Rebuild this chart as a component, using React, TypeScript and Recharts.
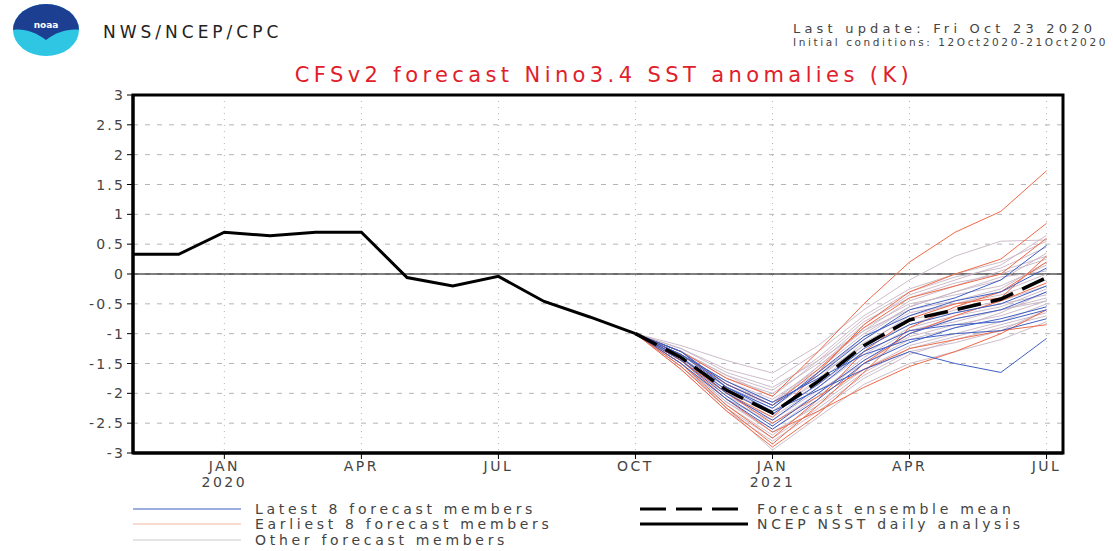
import React from "react";
import { LineChart, Line, XAxis, YAxis, CartesianGrid, ReferenceLine, ReferenceArea } from "recharts";

// month index: 0 = Nov 2019 ... 20 = Jul 2021
const analysisMonths = [0, 1, 2, 3, 4, 5, 6, 7, 8, 9, 10, 11];
const analysisValues = [0.33, 0.33, 0.7, 0.64, 0.7, 0.7, -0.06, -0.2, -0.04, -0.46, -0.72, -1.0];

const forecastMonths = [11, 12, 13, 14, 15, 16, 17, 18, 19, 20];
const ensembleMean = [-1.0, -1.4, -1.95, -2.33, -1.8, -1.2, -0.77, -0.6, -0.42, -0.06];

const latestMembers = [
  [-1.0, -1.35, -1.9, -2.3, -1.95, -1.6, -1.3, -1.5, -1.65, -1.08],
  [-1.0, -1.4, -2.0, -2.45, -1.9, -1.3, -0.95, -0.85, -0.8, -0.6],
  [-1.0, -1.45, -2.05, -2.55, -2.0, -1.45, -1.0, -0.75, -0.6, -0.3],
  [-1.0, -1.3, -1.85, -2.2, -1.7, -1.1, -0.6, -0.4, -0.1, 0.48],
  [-1.0, -1.4, -1.95, -2.35, -1.85, -1.25, -0.85, -0.65, -0.5, -0.2],
  [-1.0, -1.35, -1.8, -2.15, -1.75, -1.35, -1.1, -1.0, -0.95, -0.75],
  [-1.0, -1.5, -2.1, -2.6, -2.1, -1.5, -1.15, -0.9, -0.75, -0.55],
  [-1.0, -1.3, -1.9, -2.25, -1.65, -1.05, -0.7, -0.45, -0.3, 0.1],
];

const earliestMembers = [
  [-1.0, -1.3, -1.75, -2.05, -1.3, -0.5, 0.2, 0.7, 1.05, 1.73],
  [-1.0, -1.4, -2.0, -2.4, -1.65, -0.85, -0.3, 0.0, 0.25, 0.85],
  [-1.0, -1.55, -2.25, -2.85, -2.2, -1.5, -1.0, -0.7, -0.45, -0.15],
  [-1.0, -1.45, -2.1, -2.65, -2.3, -1.9, -1.55, -1.3, -1.0, -0.6],
  [-1.0, -1.35, -1.85, -2.2, -1.6, -0.9, -0.4, -0.2, 0.0, 0.6],
  [-1.0, -1.5, -2.2, -2.75, -2.1, -1.3, -0.75, -0.5, -0.4, 0.3],
  [-1.0, -1.45, -2.0, -2.5, -2.05, -1.6, -1.25, -1.1, -0.95, -0.85],
  [-1.0, -1.6, -2.3, -2.9, -2.35, -1.65, -0.9, -0.55, -0.3, 0.2],
];

const otherMembers = [
  [-1.0, -1.2, -1.45, -1.66, -1.2, -0.6, -0.1, 0.3, 0.55, 0.57],
  [-1.0, -1.25, -1.6, -1.8, -1.3, -0.7, -0.25, 0.0, 0.2, 0.55],
  [-1.0, -1.3, -1.7, -1.95, -1.4, -0.75, -0.3, -0.05, 0.1, 0.45],
  [-1.0, -1.35, -1.8, -2.1, -1.6, -1.0, -0.55, -0.3, -0.1, 0.35],
  [-1.0, -1.4, -1.9, -2.2, -1.55, -0.95, -0.45, -0.2, 0.05, 0.3],
  [-1.0, -1.45, -2.0, -2.3, -1.8, -1.2, -0.7, -0.5, -0.3, 0.0],
  [-1.0, -1.4, -2.05, -2.4, -1.9, -1.35, -0.9, -0.7, -0.55, -0.25],
  [-1.0, -1.5, -2.1, -2.5, -2.0, -1.4, -0.95, -0.8, -0.6, -0.4],
  [-1.0, -1.35, -1.85, -2.15, -1.65, -1.1, -0.65, -0.5, -0.35, -0.1],
  [-1.0, -1.55, -2.2, -2.7, -2.15, -1.6, -1.2, -1.0, -0.8, -0.5],
  [-1.0, -1.6, -2.3, -2.8, -2.3, -1.75, -1.35, -1.1, -0.9, -0.7],
  [-1.0, -1.5, -2.25, -2.95, -2.4, -1.85, -1.5, -1.3, -1.1, -0.8],
  [-1.0, -1.3, -1.75, -2.0, -1.5, -0.85, -0.35, -0.1, 0.15, 0.65],
  [-1.0, -1.45, -1.95, -2.35, -1.75, -1.15, -0.75, -0.65, -0.5, -0.35],
  [-1.0, -1.4, -1.9, -2.25, -1.7, -1.2, -0.85, -0.6, -0.45, -0.2],
  [-1.0, -1.35, -1.8, -2.15, -1.55, -0.9, -0.5, -0.35, -0.2, 0.15],
  [-1.0, -1.5, -2.15, -2.6, -2.05, -1.45, -1.05, -0.85, -0.7, -0.45],
  [-1.0, -1.45, -2.1, -2.45, -1.95, -1.5, -1.1, -0.9, -0.65, -0.3],
  [-1.0, -1.25, -1.65, -1.9, -1.45, -0.95, -0.6, -0.45, -0.25, 0.2],
  [-1.0, -1.55, -2.25, -2.75, -2.25, -1.7, -1.3, -1.15, -0.95, -0.6],
  [-1.0, -1.4, -1.95, -2.3, -1.85, -1.3, -0.95, -0.75, -0.6, -0.45],
  [-1.0, -1.3, -1.7, -2.05, -1.45, -0.8, -0.4, -0.15, 0.0, 0.25],
  [-1.0, -1.5, -2.15, -2.65, -2.2, -1.65, -1.25, -1.05, -0.85, -0.65],
  [-1.0, -1.35, -1.85, -2.2, -1.7, -1.05, -0.55, -0.3, -0.05, 0.05],
];

const xTicks = [2, 5, 8, 11, 14, 17, 20];
const xTickLabels = ["JAN", "APR", "JUL", "OCT", "JAN", "APR", "JUL"];
const xTickYears = ["2020", "", "", "", "2021", "", ""];
const yTicks = [-3, -2.5, -2, -1.5, -1, -0.5, 0, 0.5, 1, 1.5, 2, 2.5, 3];

const legendItems = [
  { label: "Latest 8 forecast members", color: "#3f5fc4", width: 1.2, dash: undefined, x: 133, tx: 255, y: 509 },
  { label: "Earliest 8 forecast members", color: "#f2b79d", width: 1.2, dash: undefined, x: 133, tx: 255, y: 524 },
  { label: "Other forecast members", color: "#c9c9c9", width: 1.2, dash: undefined, x: 133, tx: 255, y: 540 },
  { label: "Forecast ensemble mean", color: "#000", width: 3, dash: "26 10", x: 640, tx: 757, y: 509 },
  { label: "NCEP NSST daily analysis", color: "#000", width: 3, dash: undefined, x: 640, tx: 757, y: 524 },
];

// build the table
const rows: Record<string, number>[] = [];
for (let i = 0; i <= 20; i++) rows.push({ x: i });
analysisMonths.forEach((m, i) => (rows[m].obs = analysisValues[i]));
forecastMonths.forEach((m, i) => {
  rows[m].mean = ensembleMean[i];
  otherMembers.forEach((s, k) => (rows[m]["o" + k] = s[i]));
  earliestMembers.forEach((s, k) => (rows[m]["e" + k] = s[i]));
  latestMembers.forEach((s, k) => (rows[m]["l" + k] = s[i]));
});

const font = "'DejaVu Sans', 'Liberation Sans', sans-serif";

const XTick = (props: any) => {
  const { x, y, payload } = props;
  const idx = xTicks.indexOf(payload.value);
  return (
    <g>
      <text x={x} y={y + 10} textAnchor="middle" fontFamily={font} fontSize={14} fill="#444" letterSpacing={2.5}>
        {xTickLabels[idx]}
      </text>
      {xTickYears[idx] ? (
        <text x={x} y={y + 26} textAnchor="middle" fontFamily={font} fontSize={14} fill="#444" letterSpacing={2.5}>
          {xTickYears[idx]}
        </text>
      ) : null}
    </g>
  );
};

const YTick = (props: any) => {
  const { x, y, payload } = props;
  return (
    <text x={x} y={y + 5} textAnchor="end" fontFamily={font} fontSize={14} fill="#444" letterSpacing={2.2}>
      {String(payload.value)}
    </text>
  );
};

export default function App() {
  return (
    <div style={{ position: "absolute", left: 0, top: 0, width: 1113, height: 551, background: "#fff" }}>
      <LineChart width={1113} height={551} data={rows} margin={{ top: 95, right: 50, bottom: 0, left: 0 }}>
        <CartesianGrid horizontal={true} vertical={false} stroke="#b5b5b5" strokeDasharray="5 7" />
        <CartesianGrid horizontal={false} vertical={true} stroke="#b5b5b5" strokeDasharray="1 5" />
        <XAxis
          dataKey="x"
          type="number"
          domain={[0, 20.36]}
          ticks={xTicks}
          allowDataOverflow
          tick={<XTick />}
          tickLine={{ stroke: "#000" }}
          tickSize={6}
          axisLine={{ stroke: "#000", strokeWidth: 3 }}
          height={98}
        />
        <YAxis
          type="number"
          domain={[-3, 3]}
          ticks={yTicks}
          allowDataOverflow
          tick={<YTick />}
          tickLine={{ stroke: "#000" }}
          tickSize={6}
          axisLine={{ stroke: "#000", strokeWidth: 3 }}
          width={133}
        />
        <ReferenceLine y={0} stroke="#000" strokeWidth={1.2} />
        {otherMembers.map((_, k) => (
          <Line key={"o" + k} dataKey={"o" + k} stroke="#c7b5c4" strokeWidth={0.9} dot={false} isAnimationActive={false} />
        ))}
        {earliestMembers.map((_, k) => (
          <Line key={"e" + k} dataKey={"e" + k} stroke="#ef6a48" strokeWidth={1} dot={false} isAnimationActive={false} />
        ))}
        {latestMembers.map((_, k) => (
          <Line key={"l" + k} dataKey={"l" + k} stroke="#3f5fc4" strokeWidth={1} dot={false} isAnimationActive={false} />
        ))}
        <Line dataKey="mean" stroke="#000" strokeWidth={3.5} strokeDasharray="24 10" dot={false} isAnimationActive={false} />
        <Line dataKey="obs" stroke="#000" strokeWidth={3} dot={false} isAnimationActive={false} />
        <ReferenceArea x1={0} x2={20.36} y1={-3} y2={3} fill="none" stroke="#000" strokeWidth={3} ifOverflow="visible" />
      </LineChart>
      <svg width={1113} height={551} style={{ position: "absolute", left: 0, top: 0, pointerEvents: "none" }}>
        {/* NOAA logo */}
        <defs>
          <clipPath id="logoClip">
            <ellipse cx={46} cy={30} rx={33} ry={26} />
          </clipPath>
        </defs>
        <ellipse cx={46} cy={30} rx={33} ry={26} fill="#2ec6e3" />
        <g clipPath="url(#logoClip)">
          <path d="M0 0 H100 V36 C80 26 62 28 46 40 C30 28 12 26 0 36 Z" fill="#1d3f92" />
        </g>
        <text x={46} y={28} textAnchor="middle" fontFamily={font} fontSize={9} fontWeight="bold" fill="#fff">
          noaa
        </text>
        <text x={103} y={38} fontFamily={font} fontSize={17} fill="#222" letterSpacing={4}>
          NWS/NCEP/CPC
        </text>
        <text x={793} y={33} fontFamily={font} fontSize={13} fill="#444" letterSpacing={4.2}>
          Last update: Fri Oct 23 2020
        </text>
        <text x={793} y={46} fontFamily={font} fontSize={10.5} fill="#444" letterSpacing={2.6}>
          Initial conditions: 12Oct2020-21Oct2020
        </text>
        <text x={604} y={82} textAnchor="middle" fontFamily={font} fontSize={21} fill="#e0202a" letterSpacing={4.4}>
          CFSv2 forecast Nino3.4 SST anomalies (K)
        </text>
        {legendItems.map((it) => (
          <g key={it.label}>
            <line x1={it.x} x2={it.x + 108} y1={it.y} y2={it.y} stroke={it.color} strokeWidth={it.width} strokeDasharray={it.dash} />
            <text x={it.tx} y={it.y + 5} fontFamily={font} fontSize={14} fill="#444" letterSpacing={3.7}>
              {it.label}
            </text>
          </g>
        ))}
      </svg>
    </div>
  );
}
